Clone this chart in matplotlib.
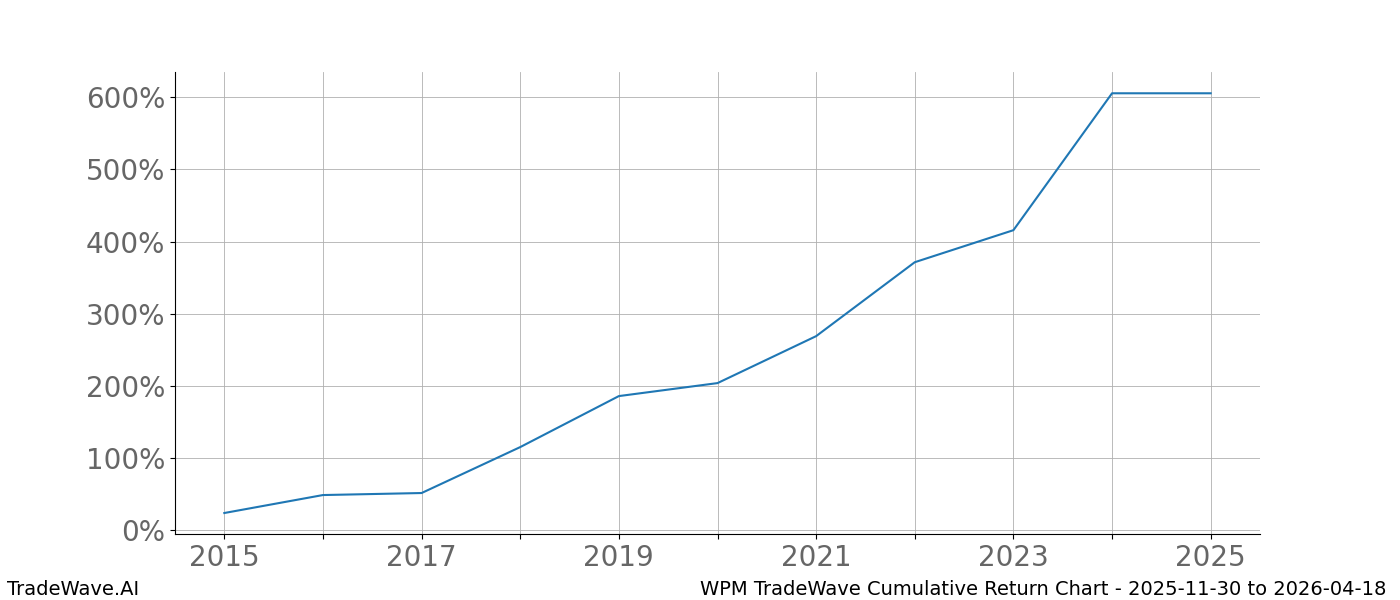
import matplotlib
matplotlib.use("Agg")
import matplotlib.pyplot as plt
from matplotlib.ticker import FuncFormatter

years = [2015, 2016, 2017, 2018, 2019, 2020, 2021, 2022, 2023, 2024, 2025]
returns = [23.6, 48.5, 51.3, 115, 185.7, 203.7, 268.8, 371.3, 415.7, 605.5, 605.5]
xtick_labels = [2015, 2017, 2019, 2021, 2023, 2025]

fig = plt.figure(figsize=(14, 6), dpi=100)
ax = fig.add_axes([0.125, 0.11, 0.775, 0.77])
ax.plot(years, returns, color="#1f77b4", lw=1.5)
ax.set_xlim(2014.5, 2025.5)
ax.set_ylim(-5.5, 635)
ax.set_xticks(years)
ax.set_xticklabels([str(y) if y in xtick_labels else "" for y in years])
ax.set_yticks(range(0, 601, 100))
ax.yaxis.set_major_formatter(FuncFormatter(lambda v, p: f"{int(v)}%"))
ax.grid(True, color="#b0b0b0", lw=0.6)
for s in ["top", "right"]:
    ax.spines[s].set_visible(False)
ax.tick_params(labelsize=20, labelcolor="#666666")
fig.text(0.005, 0.008, "TradeWave.AI", fontsize=14)
fig.text(0.99, 0.008, "WPM TradeWave Cumulative Return Chart - 2025-11-30 to 2026-04-18", fontsize=14, ha="right")
fig.savefig("out.png")
